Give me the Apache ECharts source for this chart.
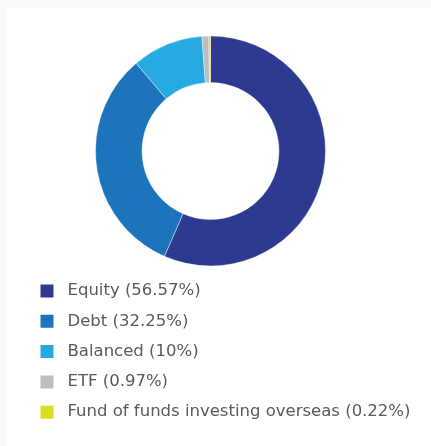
<!DOCTYPE html>
<html>
<head>
<meta charset="utf-8">
<script src="https://cdn.jsdelivr.net/npm/echarts@6/dist/echarts.min.js"></script>
<style>
  html, body { margin: 0; padding: 0; width: 431px; height: 446px; background: #f9f9f9; overflow: hidden; }
  #chart { position: absolute; left: 7px; top: 8px; width: 424px; height: 438px; background: #ffffff; }
</style>
</head>
<body>
<div id="chart"></div>
<script>
// Asset allocation breakdown
const categories = ['Equity', 'Debt', 'Balanced', 'ETF', 'Fund of funds investing overseas'];
const shares = [56.57, 32.25, 10, 0.97, 0.22];
const colors = ['#2e3990', '#1c75bc', '#27aae1', '#bcbec0', '#d7df23'];

const chart = echarts.init(document.getElementById('chart'), null, { renderer: 'canvas' });

chart.setOption({
  animation: false,
  color: colors,
  legend: {
    orient: 'vertical',
    left: 26.5,
    top: 268,
    icon: 'rect',
    itemWidth: 15,
    itemHeight: 15,
    itemGap: 10.3,
    selectedMode: false,
    data: categories,
    formatter: function (name) {
      const i = categories.indexOf(name);
      return name + ' (' + shares[i] + '%)';
    },
    textStyle: {
      fontFamily: 'DejaVu Sans, sans-serif',
      fontSize: 16.5,
      lineHeight: 20,
      color: '#5a5a5a',
      padding: [0, 0, 0, 8]
    }
  },
  series: [{
    type: 'pie',
    center: [203.5, 143],
    radius: [68.5, 115],
    startAngle: 90,
    clockwise: true,
    label: { show: false },
    labelLine: { show: false },
    emphasis: { disabled: true },
    itemStyle: { borderColor: '#ffffff', borderWidth: 0.4 },
    data: categories.map((c, i) => ({ name: c, value: shares[i] }))
  }]
});
</script>
</body>
</html>
